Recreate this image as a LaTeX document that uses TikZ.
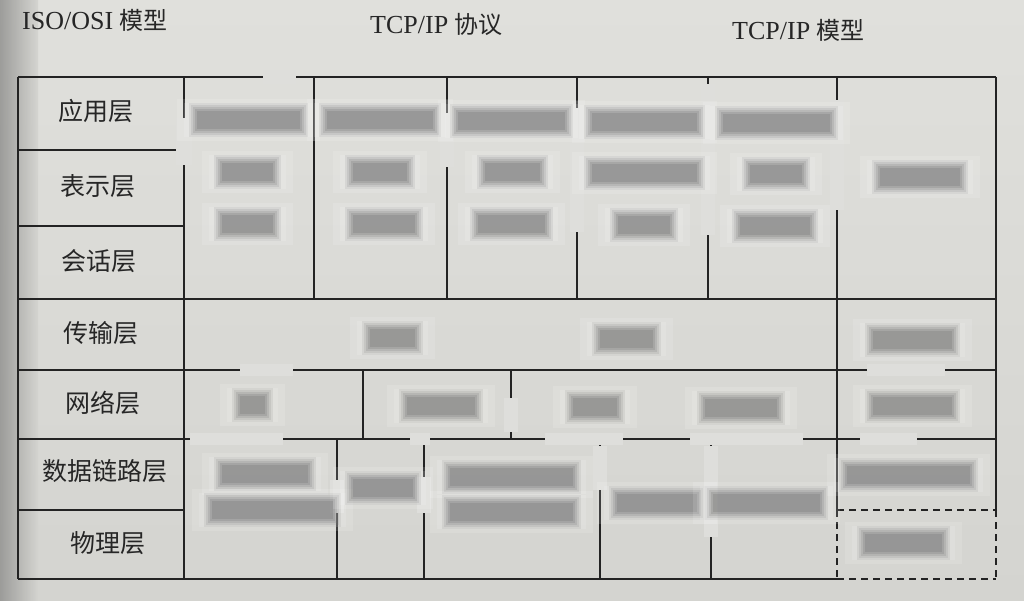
\documentclass[tikz,border=0pt]{standalone}
\usepackage{fontspec}
\setmainfont{Liberation Serif}
\newfontfamily\cjk{Noto Sans CJK SC}
\definecolor{bg}{RGB}{212,212,208}
\definecolor{bgtop}{RGB}{224,224,220}
\definecolor{shadowc}{RGB}{150,150,148}
\definecolor{smearc}{RGB}{222,222,219}
\definecolor{blobc}{RGB}{120,120,120}
\definecolor{linec}{RGB}{35,35,35}
\newcommand\myblob[3]{%
  \fill[white,opacity=0.13] (#1-20,#3-21) rectangle (#2+20,#3+21);
  \fill[white,opacity=0.13] (#1-13,#3-17) rectangle (#2+13,#3+17);
  \foreach \d/\o in {8/0.12,6/0.15,4/0.2,2/0.25,0/0.3}
    \fill[blobc,opacity=\o] (#1-\d,#3-9-\d) rectangle (#2+\d,#3+9+\d);
}
\newcommand\mysmear[4]{\fill[smearc] (#1,#2) rectangle (#3,#4);}
\tikzset{
  tline/.style={draw=linec,line width=1.7pt},
  dline/.style={draw=linec,line width=1.7pt,dash pattern=on 7pt off 5pt},
  lab/.style={inner sep=0pt,font=\cjk\fontsize{25}{30}\selectfont,text=black!85},
  head/.style={inner sep=0pt,anchor=west,text=black!85}
}
\begin{document}
\begin{tikzpicture}[x=1pt,y=-1pt]
\useasboundingbox (0,0) rectangle (1024,600);
\shade[top color=bgtop,bottom color=bg] (0,0) rectangle (1024,600);
\shade[left color=shadowc,right color=bg,opacity=0.9] (0,0) rectangle (38,600);

% headings
\node[head] (h1) at (22,20) {\fontsize{26}{30}\selectfont ISO/OSI {\cjk\fontsize{24}{30}\selectfont 模型}};
\node[head] (h2) at (370,24) {\fontsize{26}{30}\selectfont TCP/IP {\cjk\fontsize{24}{30}\selectfont 协议}};
\node[head] (h3) at (732,30) {\fontsize{26}{30}\selectfont TCP/IP {\cjk\fontsize{24}{30}\selectfont 模型}};

% outer frame and left column
\draw[tline] (18,77) -- (996,77);
\draw[tline] (18,77) -- (18,579);
\draw[tline] (184,77) -- (184,579);
\draw[tline] (996,77) -- (996,510);
\draw[dline] (996,510) -- (996,579);
\draw[tline] (18,579) -- (837,579);
\draw[dline] (837,579) -- (996,579);
% row lines
\draw[tline] (18,150) -- (184,150);
\draw[tline] (18,226) -- (184,226);
\draw[tline] (18,299) -- (996,299);
\draw[tline] (18,370) -- (996,370);
\draw[tline] (18,439) -- (996,439);
\draw[tline] (18,510) -- (184,510);
\draw[dline] (837,510) -- (996,510);
% upper block columns
\foreach \x in {314,447,577,708,837} \draw[tline] (\x,77) -- (\x,299);
% transport
\draw[tline] (837,299) -- (837,370);
% network
\foreach \x in {363,511,837} \draw[tline] (\x,370) -- (\x,439);
% data link / physical
\foreach \x in {337,424,600,711} \draw[tline] (\x,439) -- (\x,579);
\draw[tline] (837,439) -- (837,510);
\draw[dline] (837,510) -- (837,579);

% smeared parts of the lines
\mysmear{263}{70}{296}{84}
\mysmear{176}{118}{192}{165}
\mysmear{440}{113}{454}{167}
\mysmear{570}{108}{584}{232}
\mysmear{701}{84}{715}{235}
\mysmear{830}{100}{844}{210}
\mysmear{240}{364}{293}{376}
\mysmear{867}{364}{945}{376}
\mysmear{190}{433}{283}{445}
\mysmear{410}{433}{430}{445}
\mysmear{545}{433}{623}{445}
\mysmear{690}{433}{803}{445}
\mysmear{860}{433}{917}{445}
\mysmear{504}{398}{518}{432}
\mysmear{330}{480}{344}{513}
\mysmear{417}{477}{431}{513}
\mysmear{593}{446}{607}{490}
\mysmear{704}{446}{718}{537}

% blurred entries
\myblob{197}{300}{120}
\myblob{222}{273}{172}
\myblob{222}{273}{224}
\myblob{327}{433}{120}
\myblob{353}{407}{172}
\myblob{353}{415}{224}
\myblob{458}{565}{121}
\myblob{485}{540}{172}
\myblob{478}{545}{224}
\myblob{592}{697}{122}
\myblob{592}{697}{173}
\myblob{618}{670}{225}
\myblob{723}{830}{123}
\myblob{750}{802}{174}
\myblob{740}{810}{226}
\myblob{880}{960}{177}
\myblob{370}{415}{338}
\myblob{600}{653}{339}
\myblob{873}{952}{340}
\myblob{240}{265}{405}
\myblob{407}{475}{406}
\myblob{573}{617}{407}
\myblob{705}{777}{408}
\myblob{873}{952}{406}
\myblob{222}{308}{474}
\myblob{212}{333}{510}
\myblob{353}{413}{488}
\myblob{450}{573}{477}
\myblob{450}{573}{512}
\myblob{617}{697}{503}
\myblob{713}{820}{503}
\myblob{847}{970}{475}
\myblob{865}{942}{543}

% layer names
\node[lab] (l1) at (96,111) {应用层};
\node[lab] (l2) at (98,186) {表示层};
\node[lab] (l3) at (99,261) {会话层};
\node[lab] (l4) at (101,333) {传输层};
\node[lab] (l5) at (103,403) {网络层};
\node[lab] (l6) at (105,471) {数据链路层};
\node[lab] (l7) at (108,543) {物理层};
\end{tikzpicture}
\end{document}
